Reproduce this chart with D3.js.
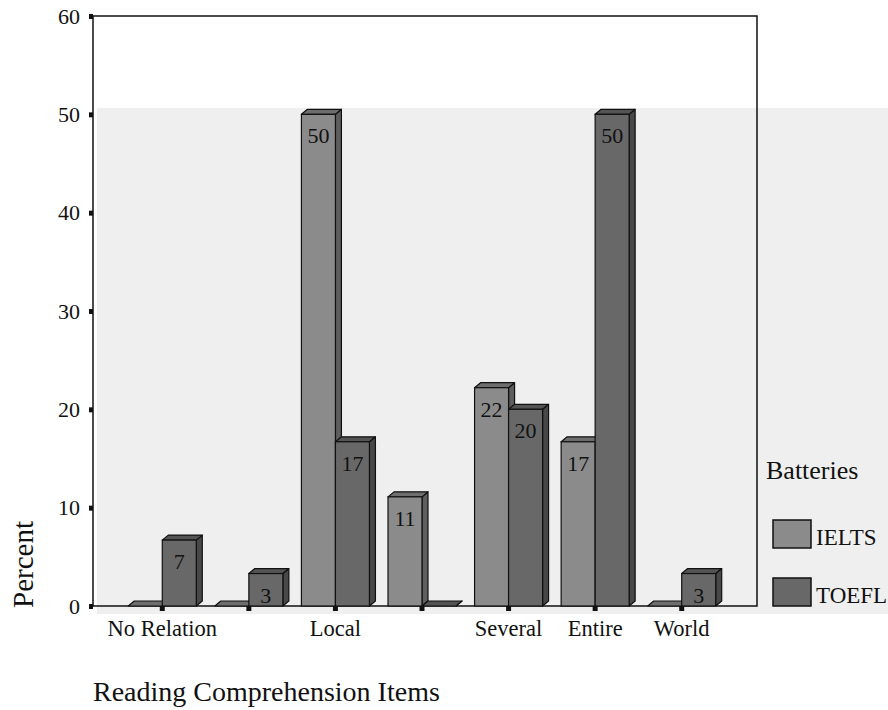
<!DOCTYPE html>
<html>
<head>
<meta charset="utf-8">
<script src="https://cdn.jsdelivr.net/npm/d3@7"></script>
<style>
  body { margin: 0; background: #fff; }
  text { font-family: "Liberation Serif", "Times New Roman", serif; fill: #111; }
</style>
</head>
<body>
<div id="chart"></div>
<script>
// reading comprehension items, two test batteries (percent of items)
const categories = ["No Relation", "", "Local", "", "Several", "Entire", "World"]
const series = ["IELTS", "TOEFL"]
const ieltsValues = [0, 0, 50, 11.1, 22.2, 16.7, 0]
const toeflValues = [6.7, 3.3, 16.7, 0, 20, 50, 3.3]
const yTicks = [0, 10, 20, 30, 40, 50, 60]

const width = 888
const height = 710
const plotLeft = 93, plotRight = 757, plotTop = 16, plotBottom = 606

const colors = {
  IELTS: { front: "#8b8b8b", top: "#6e6e6e", side: "#5e5e5e" },
  TOEFL: { front: "#686868", top: "#545454", side: "#484848" }
}

const svg = d3.select("#chart")
  .append("svg")
  .attr("width", width)
  .attr("height", height)

// scanned grey backdrop
svg.append("rect")
  .attr("x", 97).attr("y", 108)
  .attr("width", width - 97).attr("height", 506)
  .attr("fill", "#efefef")

const yScale = d3.scaleLinear()
  .domain([0, 60])
  .range([plotBottom, plotTop])

const xScale = d3.scaleBand()
  .domain(d3.range(categories.length))
  .range([119, 725])

// frame
svg.append("rect")
  .attr("x", plotLeft).attr("y", plotTop)
  .attr("width", plotRight - plotLeft).attr("height", plotBottom - plotTop)
  .attr("fill", "none")
  .attr("stroke", "#111")
  .attr("stroke-width", 1.5)

const barW = 34
const dx = 6, dy = -5

const bars = []
categories.forEach((c, i) => {
  bars.push({ i, key: "IELTS", value: ieltsValues[i] })
  bars.push({ i, key: "TOEFL", value: toeflValues[i] })
})

const g = svg.append("g")
  .selectAll("g")
  .data(bars)
  .join("g")

function geom(d) {
  const xc = xScale(d.i) + xScale.bandwidth() / 2
  const x0 = d.key === "IELTS" ? xc - barW : xc
  return { x0, x1: x0 + barW, yt: yScale(d.value), yb: yScale(0) }
}

g.append("polygon")
  .attr("points", d => {
    const b = geom(d)
    return [[b.x1, b.yt], [b.x1 + dx, b.yt + dy], [b.x1 + dx, b.yb + dy], [b.x1, b.yb]].join(" ")
  })
  .attr("fill", d => colors[d.key].side)
  .attr("stroke", "#111")
  .attr("stroke-width", 1.2)
  .attr("stroke-linejoin", "round")

g.append("polygon")
  .attr("points", d => {
    const b = geom(d)
    return [[b.x0, b.yt], [b.x0 + dx, b.yt + dy], [b.x1 + dx, b.yt + dy], [b.x1, b.yt]].join(" ")
  })
  .attr("fill", d => colors[d.key].top)
  .attr("stroke", "#111")
  .attr("stroke-width", 1.2)
  .attr("stroke-linejoin", "round")

g.filter(d => d.value > 0)
  .append("rect")
  .attr("x", d => geom(d).x0)
  .attr("y", d => geom(d).yt)
  .attr("width", barW)
  .attr("height", d => geom(d).yb - geom(d).yt)
  .attr("fill", d => colors[d.key].front)
  .attr("stroke", "#111")
  .attr("stroke-width", 1.2)

g.filter(d => d.value > 0)
  .append("text")
  .attr("x", d => geom(d).x0 + barW / 2)
  .attr("y", d => geom(d).yt + 29)
  .attr("text-anchor", "middle")
  .attr("font-size", "22px")
  .text(d => d3.format(".0f")(d.value))

// axes
const yAxis = d3.axisLeft(yScale)
  .tickValues(yTicks)
  .tickSize(4)
  .tickPadding(9)

svg.append("g")
  .attr("transform", `translate(${plotLeft} 0)`)
  .call(yAxis)
  .call(a => a.select(".domain").remove())
  .call(a => a.selectAll(".tick line").attr("stroke", "#111").attr("stroke-width", 5))
  .call(a => a.selectAll(".tick text").attr("font-size", "22px"))

const xAxis = d3.axisBottom(xScale)
  .tickFormat(i => categories[i])
  .tickSize(5)
  .tickPadding(9)

svg.append("g")
  .attr("transform", `translate(0 ${plotBottom})`)
  .call(xAxis)
  .call(a => a.select(".domain").remove())
  .call(a => a.selectAll(".tick line").attr("stroke", "#111").attr("stroke-width", 5))
  .call(a => a.selectAll(".tick text").attr("font-size", "22.5px"))

// titles
svg.append("text")
  .attr("x", plotLeft)
  .attr("y", 701)
  .attr("font-size", "28px")
  .text("Reading Comprehension Items")

svg.append("text")
  .attr("transform", "translate(33 608) rotate(-90)")
  .attr("font-size", "29px")
  .text("Percent")

// legend
svg.append("text")
  .attr("x", 766)
  .attr("y", 479)
  .attr("font-size", "26px")
  .text("Batteries")

const legend = svg.append("g")
  .selectAll("g")
  .data(series)
  .join("g")
  .attr("transform", (d, i) => `translate(773 ${520 + i * 58})`)

legend.append("rect")
  .attr("width", 38)
  .attr("height", 28)
  .attr("fill", d => colors[d].front)
  .attr("stroke", "#111")
  .attr("stroke-width", 1.5)

legend.append("text")
  .attr("x", 43)
  .attr("y", 25)
  .attr("font-size", "23px")
  .text(d => d)
</script>
</body>
</html>
